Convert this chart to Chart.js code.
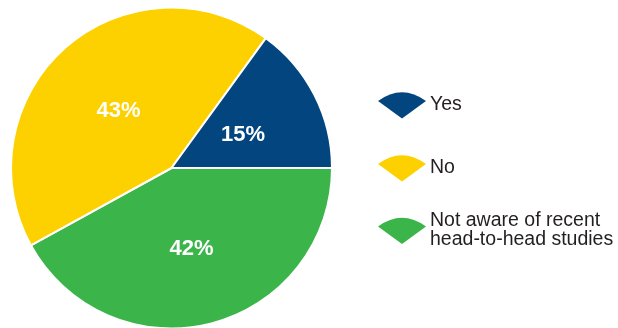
<!DOCTYPE html>
<html>
<head>
<meta charset="utf-8">
<script src="https://cdn.jsdelivr.net/npm/chart.js@4"></script>
<style>
  html, body { margin: 0; padding: 0; background: #fff; overflow: hidden; }
  #wrap { position: relative; width: 618px; height: 332px; }
</style>
</head>
<body>
<div id="wrap"><canvas id="c"></canvas></div>
<script>
const categories = ['Yes', 'No', 'Not aware of recent head-to-head studies'];
const legendLines = [['Yes'], ['No'], ['Not aware of recent', 'head-to-head studies']];
const shares = [15, 43, 42];
const colors = ['#03467F', '#FDD000', '#3BB54A'];

// Slices run counter-clockwise from 3 o'clock; Chart.js sweeps clockwise,
// so feed the dataset in reverse order.
const order = [2, 1, 0];

const sliceLabels = {
  id: 'sliceLabels',
  afterDatasetsDraw(chart) {
    const ctx = chart.ctx;
    const meta = chart.getDatasetMeta(0);
    ctx.save();
    ctx.fillStyle = '#ffffff';
    ctx.font = 'bold 22px "Liberation Sans", Arial, sans-serif';
    ctx.textAlign = 'center';
    ctx.textBaseline = 'middle';
    meta.data.forEach((arc, i) => {
      const p = arc.tooltipPosition();
      ctx.fillText(chart.data.datasets[0].data[i] + '%', p.x, p.y + 3.5);
    });
    ctx.restore();
  }
};

function wedge(ctx, cx, apexY, color) {
  ctx.save();
  ctx.fillStyle = color;
  ctx.beginPath();
  ctx.moveTo(cx, apexY);
  ctx.lineTo(cx - 24, apexY - 17.5);
  ctx.quadraticCurveTo(cx, apexY - 35, cx + 24, apexY - 17.5);
  ctx.closePath();
  ctx.fill();
  ctx.restore();
}

const sideLegend = {
  id: 'sideLegend',
  afterDraw(chart) {
    const ctx = chart.ctx;
    const tops = [96, 159, 212];
    const lineH = 19;
    ctx.save();
    ctx.font = '19.5px "Liberation Sans", Arial, sans-serif';
    ctx.fillStyle = '#231F20';
    ctx.textAlign = 'left';
    ctx.textBaseline = 'alphabetic';
    legendLines.forEach((lines, i) => {
      const cap = tops[i];
      const blockH = 14 + (lines.length - 1) * lineH;
      const midY = cap + blockH / 2;
      wedge(ctx, 402, midY + 15.5, colors[i]);
      lines.forEach((t, j) => {
        ctx.fillText(t, 430, cap + 14 + j * lineH);
      });
    });
    ctx.restore();
  }
};

new Chart(document.getElementById('c'), {
  type: 'pie',
  data: {
    labels: order.map(i => categories[i]),
    datasets: [{
      data: order.map(i => shares[i]),
      backgroundColor: order.map(i => colors[i]),
      borderColor: '#ffffff',
      borderWidth: 2
    }]
  },
  options: {
    responsive: true,
    maintainAspectRatio: false,
    animation: false,
    rotation: 90,
    layout: { padding: { left: 10, right: 285, top: 6.5, bottom: 2.5 } },
    plugins: {
      legend: { display: false },
      tooltip: { enabled: false }
    }
  },
  plugins: [sliceLabels, sideLegend]
});
</script>
</body>
</html>
